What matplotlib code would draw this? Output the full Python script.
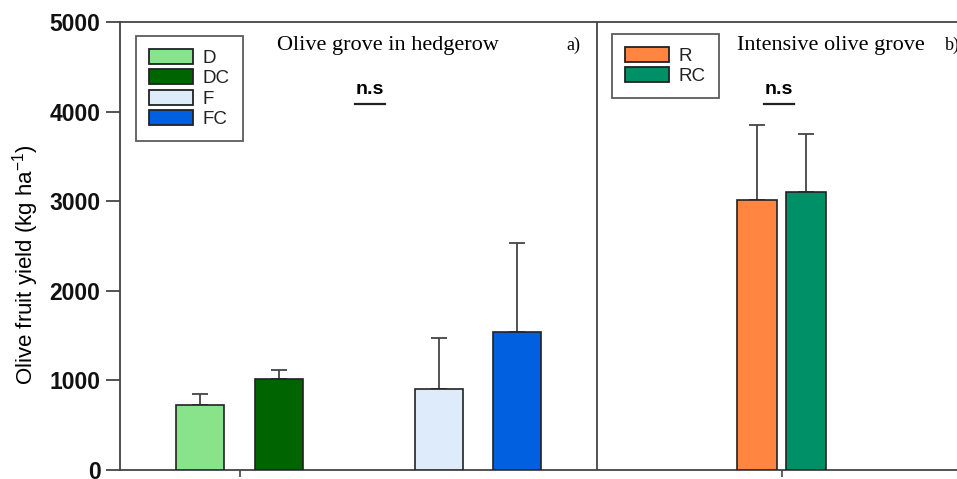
import matplotlib.pyplot as plt
from matplotlib.patches import Patch

# yield per treatment (kg/ha) with upper error (SD)
labels = ["D", "DC", "F", "FC", "R", "RC"]
yields = [720, 1020, 900, 1545, 3010, 3105]
errors = [130, 100, 570, 990, 840, 640]
colors = ["#88e38a", "#006400", "#ddebfb", "#0060e0", "#ff8540", "#009068"]

xpos = [2.00, 2.79, 4.39, 5.17, 7.57, 8.06]
widths = [0.48, 0.48, 0.48, 0.48, 0.40, 0.40]
divider = 5.97
group_ticks = [2.395, 7.815]

plt.rcParams['font.family'] = ['Liberation Sans', 'DejaVu Sans']

fig = plt.figure(figsize=(9.57, 4.79), dpi=100)
ax = fig.add_axes([120 / 957, 9 / 479, 850 / 957, 448 / 479])

ax.bar(xpos, yields, width=widths, color=colors, edgecolor="#222222", linewidth=1.2, zorder=3)
ax.errorbar(xpos, yields, yerr=[[0] * len(errors), errors], fmt="none",
            ecolor="#444444", elinewidth=1.3, capsize=6, capthick=1.3, zorder=2)

ax.axvline(divider, color="#444444", lw=1.3)

ax.set_xlim(1.2, 9.7)
ax.set_ylim(0, 5000)
ax.set_yticks([0, 1000, 2000, 3000, 4000, 5000])
ax.set_xticks(group_ticks)
ax.set_xticklabels([])
ax.tick_params(axis="y", length=10, width=1.3, color="#444444", labelsize=16.5, pad=4)
ax.tick_params(axis="x", length=5, width=1.2, color="#444444")
for lab in ax.get_yticklabels():
    lab.set_fontweight("bold")
    lab.set_color("#111111")
for s in ax.spines.values():
    s.set_color("#444444")
    s.set_linewidth(1.3)
ax.spines["right"].set_visible(False)

ax.set_ylabel("Olive fruit yield (kg ha$^{\\mathregular{-1}}$)", fontsize=16)
ax.yaxis.set_label_coords(-0.093, 0.458)

# panel titles
ax.text(3.88, 4740, "Olive grove in hedgerow", family="Liberation Serif", fontsize=16,
        ha="center", va="center")
ax.text(5.73, 4740, "a)", family="Liberation Serif", fontsize=13, ha="center", va="center")
ax.text(8.31, 4740, "Intensive olive grove", family="Liberation Serif", fontsize=16,
        ha="center", va="center")
ax.text(9.45, 4740, "b)", family="Liberation Serif", fontsize=13, ha="left", va="center")

for x in [3.7, 7.79]:
    ax.text(x, 4250, "n.s", fontsize=14, fontweight="bold", ha="center", va="center")
    ax.plot([x - 0.15, x + 0.15], [4090, 4090], color="#222222", lw=1.6)

# legends
legend_kw = dict(loc="upper left", fontsize=13.5, frameon=True, fancybox=False,
                 edgecolor="#333333", handlelength=2.35, handleheight=0.85,
                 labelspacing=0.12, handletextpad=0.5, borderpad=0.7, borderaxespad=0)

h1 = [Patch(facecolor=c, edgecolor="#222222", lw=1.3) for c in colors[:4]]
leg1 = ax.legend(h1, labels[:4], bbox_to_anchor=(16 / 850, 1 - 14 / 448), **legend_kw)
leg1.get_frame().set_linewidth(1.3)
ax.add_artist(leg1)

h2 = [Patch(facecolor=c, edgecolor="#222222", lw=1.3) for c in colors[4:]]
leg2 = ax.legend(h2, labels[4:], bbox_to_anchor=(492 / 850, 1 - 12 / 448), **legend_kw)
leg2.get_frame().set_linewidth(1.3)

for leg in (leg1, leg2):
    for t in leg.get_texts():
        t.set_color("#222222")

fig.savefig("out.png", dpi=100)
